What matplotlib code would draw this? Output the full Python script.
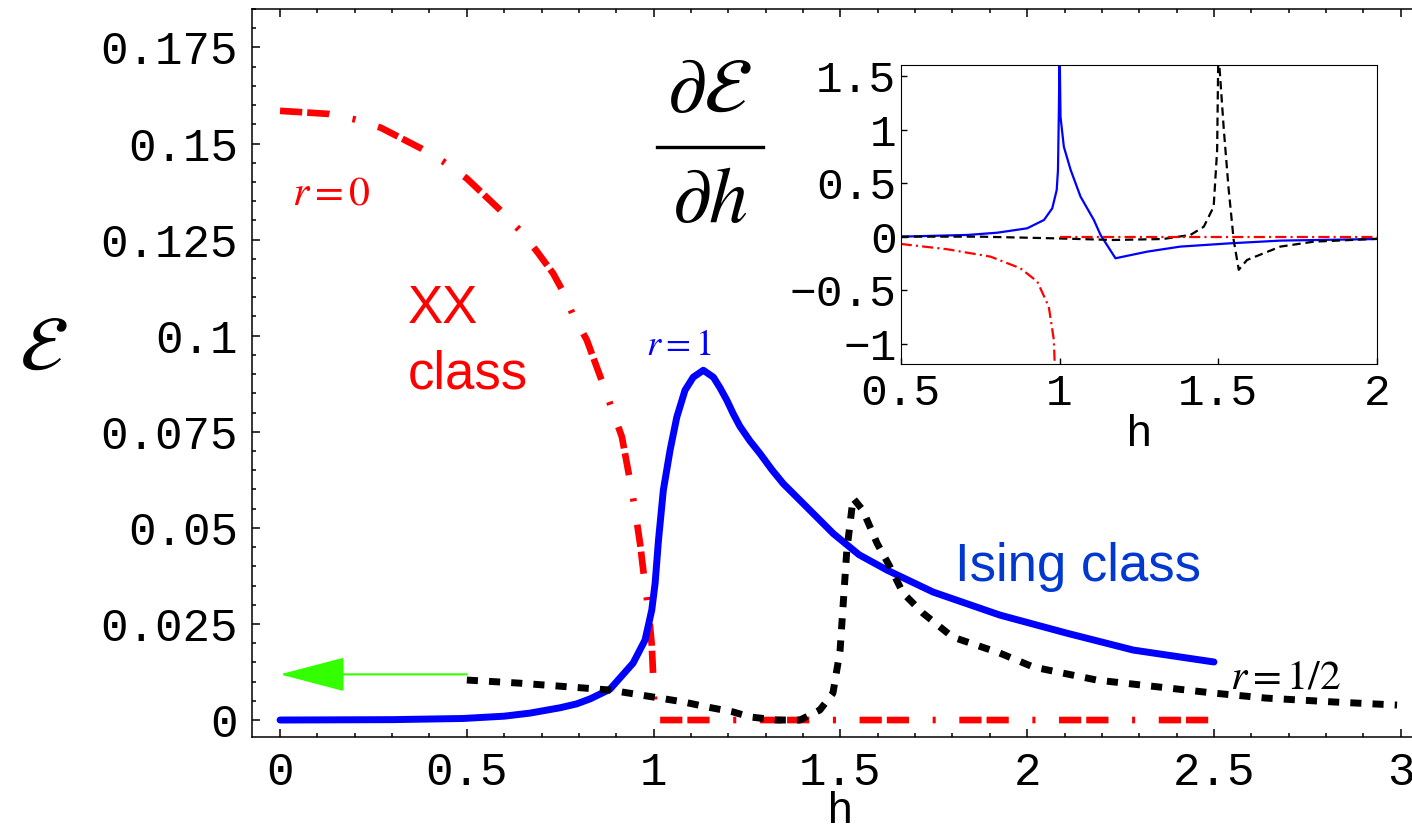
import numpy as np
import matplotlib
matplotlib.use("Agg")
import matplotlib.pyplot as plt
from matplotlib.lines import Line2D

# main panel: entanglement E vs field h
h_r0 = [0.0, 0.13, 0.195, 0.27, 0.38, 0.437, 0.5, 0.589, 0.642, 0.687, 0.731, 0.758,
        0.785, 0.821, 0.865, 0.888, 0.915, 0.937, 0.95, 0.964, 0.977, 0.986, 0.995,
        0.999, 1.002, 1.01, 1.5, 2.0, 2.5]
E_r0 = [0.1585, 0.1577, 0.1564, 0.1541, 0.1486, 0.1453, 0.1409, 0.1327, 0.1274, 0.122,
        0.1162, 0.1114, 0.1052, 0.0989, 0.0873, 0.081, 0.0737, 0.0622, 0.0549, 0.0457,
        0.0351, 0.0288, 0.0196, 0.011, 0.003, 0.0, 0.0, 0.0, 0.0]

h_r1 = [0.0, 0.3, 0.49, 0.6, 0.669, 0.75, 0.794, 0.83, 0.883, 0.945, 0.977, 0.995,
        1.004, 1.013, 1.026, 1.044, 1.062, 1.084, 1.106, 1.133, 1.16, 1.178, 1.196,
        1.213, 1.231, 1.258, 1.285, 1.316, 1.347, 1.41, 1.481, 1.55, 1.625, 1.748,
        1.927, 2.106, 2.284, 2.5]
E_r1 = [0.0, 0.0001, 0.0004, 0.001, 0.0018, 0.0032, 0.0042, 0.0055, 0.008, 0.0148,
        0.0208, 0.0286, 0.0356, 0.0468, 0.0598, 0.0702, 0.0788, 0.0858, 0.0892, 0.091,
        0.0892, 0.0864, 0.0832, 0.0797, 0.0764, 0.0726, 0.0693, 0.0652, 0.0615, 0.0554,
        0.0485, 0.043, 0.039, 0.0333, 0.0273, 0.0226, 0.0182, 0.0151]

h_r12 = [0.5, 0.64, 0.75, 0.883, 1.017, 1.08, 1.143, 1.213, 1.258, 1.33, 1.392, 1.445,
         1.48, 1.499, 1.508, 1.517, 1.534, 1.56, 1.598, 1.633, 1.668, 1.721, 1.80,
         1.927, 2.016, 2.186, 2.5, 2.64, 2.82, 2.99]
E_r12 = [0.0104, 0.0096, 0.0088, 0.0078, 0.0057, 0.0047, 0.0034, 0.0021, 0.0008, 0.0,
         0.0, 0.0026, 0.007, 0.018, 0.031, 0.044, 0.0577, 0.0546, 0.046, 0.0398, 0.033,
         0.0278, 0.0216, 0.0174, 0.0138, 0.0104, 0.007, 0.0057, 0.0047, 0.0039]

# inset: dE/dh
hd_r1 = [0.5, 0.71, 0.804, 0.898, 0.951, 0.977, 0.991, 0.995, 0.998, 1.0, 1.003,
         1.0135, 1.035, 1.066, 1.108, 1.129, 1.176, 1.276, 1.38, 1.538, 1.695, 2.0]
dE_r1 = [0.0, 0.016, 0.037, 0.078, 0.156, 0.265, 0.436, 0.623, 1.215, 1.8, 1.12, 0.84,
         0.623, 0.374, 0.156, 0.016, -0.202, -0.14, -0.093, -0.062, -0.037, -0.022]

hd_r12 = [0.5, 0.75, 0.99, 1.168, 1.325, 1.412, 1.454, 1.485, 1.496, 1.5, 1.503, 1.517,
          1.532, 1.548, 1.564, 1.59, 1.695, 1.8, 2.0]
dE_r12 = [0.0, 0.0, -0.016, -0.031, -0.022, 0.016, 0.093, 0.28, 0.81, 1.8, 1.6, 1.0,
          0.45, -0.03, -0.31, -0.218, -0.093, -0.047, -0.02]

hd_r0_lo = [0.5, 0.647, 0.783, 0.877, 0.93, 0.966, 0.982, 0.986]
dE_r0_lo = [-0.068, -0.118, -0.187, -0.296, -0.42, -0.654, -0.965, -1.3]
hd_r0_hi = [1.0, 2.0]
dE_r0_hi = [0.0, 0.0]

xticks_main = [0, 0.5, 1, 1.5, 2, 2.5, 3]
xlabels_main = ["0", "0.5", "1", "1.5", "2", "2.5", "3"]
yticks_main = [0, 0.025, 0.05, 0.075, 0.1, 0.125, 0.15, 0.175]
ylabels_main = ["0", "0.025", "0.05", "0.075", "0.1", "0.125", "0.15", "0.175"]
xticks_ins = [0.5, 1, 1.5, 2]
xlabels_ins = ["0.5", "1", "1.5", "2"]
yticks_ins = [-1, -0.5, 0, 0.5, 1, 1.5]
ylabels_ins = ["\u22121", "\u22120.5", "0", "0.5", "1", "1.5"]

plt.rcParams["mathtext.fontset"] = "stix"
plt.rcParams["lines.scale_dashes"] = False
mono = ["Liberation Mono", "DejaVu Sans Mono"]
sans = ["Liberation Sans", "DejaVu Sans"]

fig = plt.figure(figsize=(14.12, 8.33), dpi=100)
ax = fig.add_axes([0.1783, 0.1156, 0.8217, 0.8736])

ax.plot(h_r0, E_r0, color="red", lw=4.8, dashes=[16, 3.6, 16, 17, 2.2, 17],
        solid_capstyle="butt", dash_capstyle="butt")
ax.plot(h_r1, E_r1, color="#0000ff", lw=5, solid_capstyle="round")
ax.plot(h_r12, E_r12, color="black", lw=5, dashes=[8, 8], dash_capstyle="butt")

ax.set_xlim(-0.0757, 3.03)
ax.set_ylim(-0.00434, 0.1848)
ax.set_xticks(xticks_main)
ax.set_xticklabels(xlabels_main)
ax.set_yticks(yticks_main)
ax.set_yticklabels(ylabels_main)
ax.set_xticks(np.arange(0, 3.01, 0.1), minor=True)
ax.set_yticks(np.arange(0, 0.186, 0.005), minor=True)
ax.tick_params(which="both", direction="in", top=True, right=False, width=1.1,
               labelsize=33, labelfontfamily="Liberation Mono")
ax.tick_params(which="major", length=6)
ax.tick_params(which="minor", length=3)
ax.tick_params(axis="y", pad=10)
ax.tick_params(axis="x", pad=10)
ax.spines["right"].set_visible(False)
for s in ["left", "bottom", "top"]:
    ax.spines[s].set_linewidth(1.1)

ax.set_xlabel("h", fontsize=32, family=mono)
ax.xaxis.set_label_coords(0.507, -0.074)
ax.set_ylabel(r"$\mathcal{E}$", fontsize=56, rotation=0, ha="center", va="center")
ax.yaxis.set_label_coords(-0.18, 0.535)

# curve labels
ax.text(0.1365, 0.1372, r"$r=0$", color="red", fontsize=30, ha="center", va="center")
ax.text(0.343, 0.1032, "XX", color="red", fontsize=38, family=sans)
ax.text(0.343, 0.0863, "class", color="red", fontsize=38, family=sans)
ax.text(1.068, 0.0975, r"$r=1$", color="#0000ff", fontsize=26, ha="center", va="center")
ax.text(1.807, 0.0361, "Ising class", color="#0038d0", fontsize=38, family=sans)
ax.text(2.543, 0.0083, r"$r=1/2$", color="black", fontsize=30)

# green arrow
ax.annotate("", xy=(0, 0.01188), xytext=(0.5, 0.01188),
            arrowprops=dict(arrowstyle="-|>,head_length=4.2,head_width=1.1",
                            mutation_scale=10, color="#33ff00", lw=1.5,
                            shrinkA=0, shrinkB=0))

# inset
ins = fig.add_axes([0.6379, 0.5627, 0.3375, 0.3593])
ins.plot(hd_r1, dE_r1, color="#0000ff", lw=1.6)
ins.plot(hd_r12, dE_r12, color="black", lw=1.6, dashes=[6, 3.5])
ins.plot(hd_r0_lo, dE_r0_lo, color="red", lw=1.6, dashes=[8, 3, 1.5, 3])
ins.plot(hd_r0_hi, dE_r0_hi, color="red", lw=1.6, dashes=[8, 3, 1.5, 3])
ins.set_xlim(0.5, 2)
ins.set_ylim(-1.193, 1.605)
ins.set_xticks(xticks_ins)
ins.set_xticklabels(xlabels_ins)
ins.set_yticks(yticks_ins)
ins.set_yticklabels(ylabels_ins)
ins.tick_params(direction="in", length=4, width=1, labelsize=32,
                labelfontfamily="Liberation Mono")
ins.tick_params(axis="y", pad=3)
ins.tick_params(axis="x", pad=6)
ins.set_xlabel("h", fontsize=32, family=mono, labelpad=0)

# d E / d h title
fig.text(710 / 1412, 1 - 90 / 833, r"$\partial\mathcal{E}$", fontsize=56,
         ha="center", va="center")
fig.text(710 / 1412, 1 - 200 / 833, r"$\partial h$", fontsize=56,
         ha="center", va="center")
fig.add_artist(Line2D([657 / 1412, 763 / 1412], [1 - 147 / 833, 1 - 147 / 833],
                      color="black", lw=2.4))

fig.savefig("out.png", dpi=100)
